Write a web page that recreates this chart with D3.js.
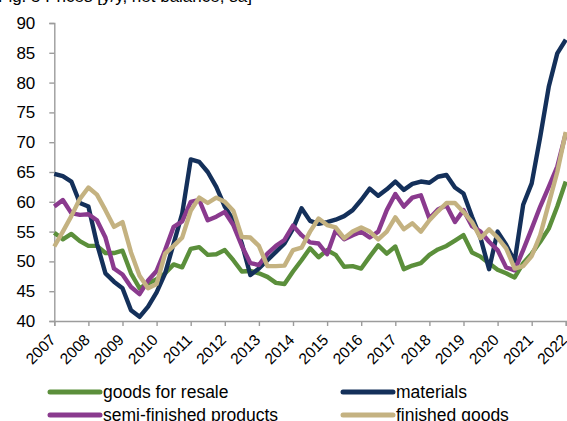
<!DOCTYPE html>
<html>
<head>
<meta charset="utf-8">
<script src="https://cdn.jsdelivr.net/npm/d3@7"></script>
<style>
  html, body { margin: 0; padding: 0; background: #fff; }
  svg { display: block; font-family: "Liberation Sans", Arial, sans-serif; }
</style>
</head>
<body>
<svg id="chart" width="567" height="421"></svg>
<script>
// Year labels on the category axis (one label every four quarters)
const yearLabels = ["2007","2008","2009","2010","2011","2012","2013","2014",
                    "2015","2016","2017","2018","2019","2020","2021","2022"];

// Quarterly readings, 2007 Q1 .. 2022 Q1
const goodsForResale = [
  54.8,53.7,54.6,53.4, 52.6,52.6,51.4,51.4, 51.8,48.0,45.5,46.3,
  47.0,48.0,49.5,49.0, 52.1,52.4,51.1,51.2, 51.9,50.2,48.3,48.4,
  48.0,47.4,46.4,46.2, 48.3,50.2,52.2,50.7, 51.9,51.1,49.1,49.2,
  48.8,50.8,52.7,51.3, 52.5,48.7,49.3,49.7, 51.1,52.0,52.6,53.5,
  54.4,51.5,50.8,49.7, 48.6,48.0,47.3,49.7, 51.3,53.3,55.5,59.2,
  63.4];
const materials = [
  64.7,64.3,63.4,59.8, 59.2,53.0,48.0,46.6, 45.5,41.8,40.7,42.4,
  44.8,48.0,53.0,58.0, 67.1,66.7,65.0,62.5, 59.2,56.9,53.0,47.7,
  48.8,50.2,51.6,53.0, 55.5,58.9,56.8,56.3, 56.6,57.0,57.6,58.6,
  60.3,62.2,61.0,62.1, 63.4,62.0,63.0,63.4, 63.2,64.2,64.5,62.4,
  61.4,57.5,53.9,48.7, 55.0,52.8,50.0,59.5, 63.1,70.9,79.3,84.9,
  87.2];
const semiFinished = [
  59.2,60.3,58.1,57.8, 57.9,56.9,54.0,48.8, 47.8,45.7,44.5,46.8,
  48.4,51.9,55.8,56.7, 60.0,60.3,56.9,57.5, 58.3,56.1,52.6,49.7,
  49.4,51.3,52.6,53.6, 56.0,54.4,53.2,53.0, 51.2,55.2,53.7,54.4,
  55.0,54.0,55.0,58.6, 61.3,59.2,60.7,61.1, 57.2,58.7,59.4,56.6,
  58.6,55.9,55.0,53.3, 51.9,49.0,48.5,51.9, 55.5,59.2,62.5,65.9,
  71.5];
const finishedGoods = [
  52.5,55.0,57.6,60.5, 62.4,61.2,58.6,55.8, 56.6,51.5,47.6,45.5,
  46.2,51.3,52.6,54.0, 58.5,60.7,59.8,60.7, 60.0,58.5,54.1,54.0,
  52.6,49.2,49.2,49.3, 51.9,52.3,55.0,57.2, 56.1,55.7,53.9,55.0,
  55.7,55.0,53.7,55.0, 57.4,55.4,56.4,55.0, 56.9,58.4,59.8,59.8,
  58.3,56.6,53.9,55.4, 54.0,52.2,48.8,49.2, 50.9,54.4,59.7,65.0,
  71.7];

const seriesNames  = ["goods for resale", "materials", "semi-finished products", "finished goods"];
const seriesColors = ["#5b8f3b", "#14305a", "#8a3a8e", "#c4b281"];
const seriesValues = [goodsForResale, materials, semiFinished, finishedGoods];

const yTicks = [40, 45, 50, 55, 60, 65, 70, 75, 80, 85, 90];
const titleText = "Fig. 5 Prices [y/y, net balance, sa]";

const svg = d3.select("#chart");
const W = 567, H = 421;
svg.append("rect").attr("width", W).attr("height", H).attr("fill", "#fff");

const nPoints = goodsForResale.length;
const x = d3.scaleLinear().domain([0, nPoints - 1]).range([54.3, 565.8]);
const y = d3.scaleLinear().domain([40, 90]).range([321, 23]);

// Title line, sitting above the top edge so only its lowest part shows
svg.append("text")
  .attr("x", -2).attr("y", 1.5)
  .attr("font-size", 17).attr("fill", "#000")
  .text(titleText);

// Y axis
const yAxis = svg.append("g")
  .attr("transform", `translate(${x(0)},0)`)
  .call(d3.axisLeft(y).tickValues(yTicks).tickSize(5).tickPadding(14).tickFormat(d3.format("d")));
yAxis.select(".domain").attr("stroke", "#9c9c9c").attr("stroke-width", 1.4);
yAxis.selectAll(".tick line").attr("stroke", "#9c9c9c").attr("stroke-width", 1.4);
yAxis.selectAll(".tick text")
  .attr("font-size", 17).attr("fill", "#000")
  .attr("font-family", "Liberation Sans, Arial, sans-serif");

// X axis: a tick at the first quarter of every year
const tickIdx = yearLabels.map((_, i) => i * 4);
const xAxis = svg.append("g")
  .attr("transform", `translate(0,${y(40)})`)
  .call(d3.axisBottom(x).tickValues(tickIdx).tickSize(5)
        .tickFormat((d, i) => yearLabels[i]));
xAxis.select(".domain").attr("stroke", "#9c9c9c").attr("stroke-width", 1.4);
xAxis.selectAll(".tick line").attr("stroke", "#9c9c9c").attr("stroke-width", 1.4);
xAxis.selectAll(".tick text")
  .attr("font-size", 15.5).attr("fill", "#000")
  .attr("font-family", "Liberation Sans, Arial, sans-serif")
  .attr("text-anchor", "end")
  .attr("dy", "0.35em")
  .attr("y", 0)
  .attr("transform", "translate(-2,16) rotate(-45)");

// Series lines, drawn in legend order
const line = d3.line().x((d, i) => x(i)).y(d => y(d));
seriesValues.forEach((vals, k) => {
  svg.append("path")
    .datum(vals)
    .attr("fill", "none")
    .attr("stroke", seriesColors[k])
    .attr("stroke-width", 4.4)
    .attr("stroke-linejoin", "round")
    .attr("stroke-linecap", "butt")
    .attr("d", line);
});

// Legend: two rows, two columns
const legendCols = [48, 341];
const legendRows = [392, 415];
seriesNames.forEach((name, k) => {
  const cx = legendCols[k % 2], cy = legendRows[Math.floor(k / 2)];
  const g = svg.append("g");
  g.append("line")
    .attr("x1", cx + 2).attr("x2", cx + 52)
    .attr("y1", cy).attr("y2", cy)
    .attr("stroke", seriesColors[k]).attr("stroke-width", 5)
    .attr("stroke-linecap", "round");
  g.append("text")
    .attr("x", cx + 55).attr("y", cy)
    .attr("dy", "0.35em")
    .attr("font-size", 17.5).attr("fill", "#000")
    .text(name);
});
</script>
</body>
</html>
